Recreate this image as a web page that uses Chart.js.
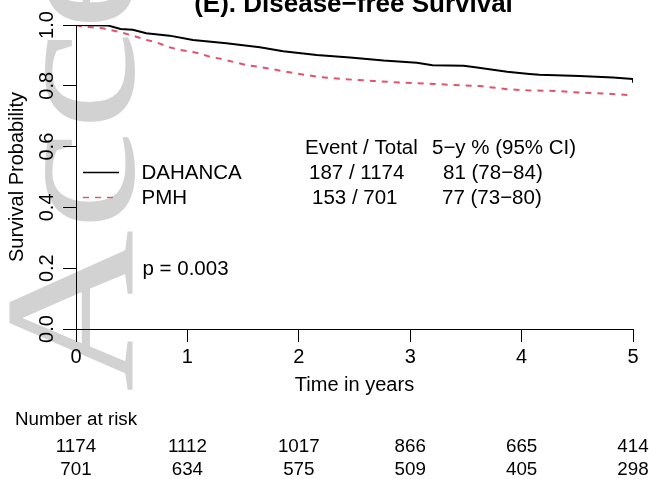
<!DOCTYPE html>
<html>
<head>
<meta charset="utf-8">
<script src="https://cdn.jsdelivr.net/npm/chart.js@4/dist/chart.umd.min.js"></script>
<style>
  body { margin: 0; background: white; }
  #wrap { width: 649px; height: 479px; }
</style>
</head>
<body>
<div id="wrap"><canvas id="kmChart" width="649" height="479"></canvas></div>
<script>
// Kaplan-Meier curves
const dahancaTime = [0, 0.29, 0.4, 0.51, 0.63, 0.84, 1.05, 1.35, 1.65, 1.86, 2.16, 2.46, 2.76, 3.06, 3.2, 3.48, 3.6, 3.87, 4.07, 4.16, 4.52, 4.82, 5.0, 5.0];
const dahancaSurv = [1.0, 0.998, 0.987, 0.984, 0.973, 0.965, 0.951, 0.940, 0.927, 0.914, 0.901, 0.893, 0.883, 0.876, 0.868, 0.866, 0.860, 0.846, 0.839, 0.836, 0.832, 0.827, 0.822, 0.81];

const pmhTime = [0, 0.05, 0.24, 0.4, 0.51, 0.63, 0.72, 0.84, 0.93, 1.08, 1.2, 1.32, 1.43, 1.53, 1.64, 1.89, 2.16, 2.4, 2.67, 2.94, 3.24, 3.36, 3.63, 3.87, 4.05, 4.31, 4.55, 4.73, 4.86, 5.0];
const pmhSurv = [1.0, 0.995, 0.989, 0.976, 0.965, 0.951, 0.943, 0.927, 0.918, 0.909, 0.896, 0.887, 0.877, 0.868, 0.863, 0.846, 0.830, 0.822, 0.816, 0.810, 0.806, 0.803, 0.799, 0.789, 0.785, 0.783, 0.777, 0.775, 0.772, 0.769];

const groupNames = ['DAHANCA', 'PMH'];

// number at risk table
const riskTimes = [0, 1, 2, 3, 4, 5];
const riskDahanca = [1174, 1112, 1017, 866, 665, 414];
const riskPmh = [701, 634, 575, 509, 405, 298];

// summary table text
const statsHeader = ['Event / Total', '5\u2212y % (95% CI)'];
const statsEvents = ['187 / 1174', '153 / 701'];
const statsFiveYear = ['81 (78\u221284)', '77 (73\u221280)'];
const pValueText = 'p = 0.003';
const titleText = '(E). Disease\u2212free Survival';

const FONT = '"Liberation Sans", Arial, sans-serif';

function toPoints(xs, ys) {
  return xs.map((x, i) => ({ x: x, y: ys[i] }));
}

// watermark + title + legend + tables
const extras = {
  id: 'extras',
  beforeDraw(chart) {
    // faint "Accepted" stamp behind the plot
    const ctx = chart.ctx;
    ctx.save();
    ctx.translate(133, 392);
    ctx.rotate(-Math.PI / 2);
    ctx.scale(1.2, 1);
    ctx.font = '187px "Liberation Serif", serif';
    ctx.fillStyle = '#d2d2d2';
    ctx.textAlign = 'left';
    ctx.textBaseline = 'alphabetic';
    ctx.fillText('Acce', 0, 0);
    ctx.restore();
  },
  afterDraw(chart) {
    const ctx = chart.ctx;
    const xs = chart.scales.x;
    ctx.save();
    ctx.fillStyle = 'black';

    // title, cut at the top edge
    ctx.font = 'bold 26px ' + FONT;
    ctx.textAlign = 'center';
    ctx.textBaseline = 'alphabetic';
    ctx.fillText(titleText, 353.5, 12);

    // legend
    ctx.font = '20.5px ' + FONT;
    ctx.textAlign = 'left';
    ctx.textBaseline = 'middle';
    const legY = [172.5, 197.5];
    chart.data.datasets.forEach((ds, i) => {
      ctx.save();
      ctx.strokeStyle = ds.borderColor;
      ctx.lineWidth = 1.4;
      ctx.setLineDash(ds.borderDash || []);
      ctx.beginPath();
      ctx.moveTo(83, legY[i]);
      ctx.lineTo(119, legY[i]);
      ctx.stroke();
      ctx.restore();
      ctx.fillText(ds.label, 141.5, legY[i] + 1);
    });

    // event / 5-year table
    ctx.fillText(statsHeader[0], 305, 148);
    ctx.fillText(statsHeader[1], 432, 148);
    ctx.fillText(statsEvents[0], 309, 173);
    ctx.fillText(statsEvents[1], 312, 198);
    ctx.fillText(statsFiveYear[0], 443, 173);
    ctx.fillText(statsFiveYear[1], 442, 198);

    ctx.fillText(pValueText, 142.5, 269);

    // number at risk
    ctx.font = '18.8px ' + FONT;
    ctx.fillText('Number at risk', 15, 420);
    ctx.textAlign = 'center';
    riskTimes.forEach((t, i) => {
      const px = xs.getPixelForValue(t);
      ctx.fillText(String(riskDahanca[i]), px, 447);
      ctx.fillText(String(riskPmh[i]), px, 470);
    });
    ctx.restore();
  }
};

const ctx = document.getElementById('kmChart').getContext('2d');
const kmChart = new Chart(ctx, {
  type: 'line',
  data: {
    datasets: [
      { label: groupNames[0], data: toPoints(dahancaTime, dahancaSurv), borderColor: '#000000', borderWidth: 2, pointRadius: 0, tension: 0, fill: false },
      { label: groupNames[1], data: toPoints(pmhTime, pmhSurv), borderColor: '#DF536B', borderWidth: 2, borderDash: [6, 6], pointRadius: 0, tension: 0, fill: false }
    ]
  },
  options: {
    responsive: false,
    animation: false,
    layout: { padding: { left: 0, top: 25, right: 16, bottom: 0 } },
    plugins: {
      legend: { display: false },
      tooltip: { enabled: false }
    },
    scales: {
      x: {
        type: 'linear',
        min: 0,
        max: 5,
        afterFit: function(scale) { scale.height = 150; },
        ticks: { stepSize: 1, color: 'black', padding: 3, font: { family: FONT, size: 20 } },
        grid: { drawOnChartArea: false, drawTicks: true, tickLength: 13, color: 'black' },
        border: { display: true, color: 'black', width: 1 },
        title: { display: true, text: 'Time in years', color: 'black', font: { family: FONT, size: 20 }, padding: { top: 0, bottom: 82 } }
      },
      y: {
        min: 0,
        max: 1,
        afterFit: function(scale) { scale.width = 76; },
        ticks: {
          stepSize: 0.2,
          color: 'black',
          padding: 2,
          minRotation: 90,
          maxRotation: 90,
          crossAlign: 'center',
          font: { family: FONT, size: 20 },
          callback: function(value) { return value.toFixed(1); }
        },
        grid: { drawOnChartArea: false, drawTicks: true, tickLength: 13, color: 'black' },
        border: { display: true, color: 'black', width: 1 },
        title: { display: true, text: 'Survival Probability', color: 'black', font: { family: FONT, size: 20 }, padding: { top: 5, bottom: 0 } }
      }
    }
  },
  plugins: [extras]
});
</script>
</body>
</html>
